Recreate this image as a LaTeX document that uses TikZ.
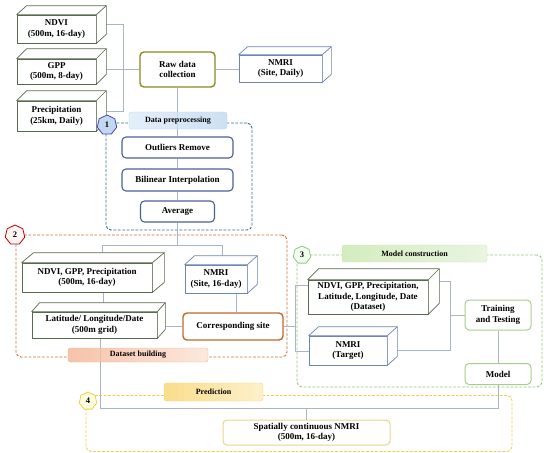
\documentclass[tikz,border=0pt]{standalone}
\usepackage{fontspec}
\setmainfont{Liberation Serif}
\usetikzlibrary{shapes.geometric,calc}
\pgfdeclarelayer{regl}
\pgfdeclarelayer{maskl}
\pgfdeclarelayer{bg}
\pgfsetlayers{regl,maskl,bg,main}
\definecolor{gbox}{HTML}{5A6A50}
\definecolor{bbox}{HTML}{6E84B4}
\definecolor{rawc}{HTML}{8A8A22}
\definecolor{prec}{HTML}{4B6096}
\definecolor{corrc}{HTML}{C0682C}
\definecolor{trnc}{HTML}{A8CC8C}
\definecolor{sptc}{HTML}{EAD38A}
\definecolor{connc}{HTML}{A9B4C8}
\definecolor{dA}{HTML}{2F6E8E}
\definecolor{dB}{HTML}{C8713A}
\definecolor{dC}{HTML}{95C878}
\definecolor{dD}{HTML}{F0CF50}
\definecolor{labAl}{HTML}{DDEBF8}
\definecolor{labAr}{HTML}{C2D8F0}
\definecolor{labBl}{HTML}{F5B494}
\definecolor{labBr}{HTML}{FCE3D6}
\definecolor{labCl}{HTML}{C9E8B0}
\definecolor{labCr}{HTML}{E4F3D8}
\definecolor{labDl}{HTML}{F9D570}
\definecolor{labDr}{HTML}{FDEDBE}
\newcommand\cubefaces[4]{%
  \draw[#4, fill=white, line width=0.7pt, line join=round] (#1.north west) -- ++(#2,-#3) -- ([shift={(#2,-#3)}]#1.north east) -- ([shift={(#2,-#3)}]#1.south east) -- (#1.south east) -- (#1.north east) -- cycle;
  \draw[#4, line width=0.7pt] (#1.north east) -- ++(#2,-#3);}
\newcommand\labmask[1]{\begin{pgfonlayer}{maskl}\fill[white, rounded corners=2.5pt] (#1.south west) rectangle (#1.north east);\end{pgfonlayer}}
\tikzset{
  txt/.style={font=\bfseries\fontsize{9}{10.5}\selectfont, align=center, inner sep=0pt},
  gcube/.style={txt, draw=gbox, fill=white, line width=0.7pt},
  bcube/.style={txt, draw=bbox, fill=white, line width=0.7pt},
  rbox/.style={txt, rounded corners=4pt, fill=white, line width=1.1pt},
  lab/.style={font=\bfseries\fontsize{8}{9}\selectfont, rounded corners=2.5pt, inner sep=0pt, line width=0.4pt, fill opacity=0.8, text opacity=1},
  regionbox/.style={rounded corners=5pt, dash pattern=on 2.8pt off 1.6pt, line width=0.9pt, inner sep=0pt},
  conn/.style={draw=connc, line width=0.6pt},
  hexa/.style={regular polygon, regular polygon sides=7, minimum size=20pt, inner sep=0pt, font=\bfseries\fontsize{8.5}{9}\selectfont, line width=0.8pt}
}
\begin{document}
\begin{tikzpicture}[x=1pt,y=-1pt]
\useasboundingbox (0,0) rectangle (550,453);
% regions
\begin{pgfonlayer}{regl}
\node[regionbox, draw=dA, minimum width=146, minimum height=107] (r1) at (179,176.5) {};
\node[regionbox, draw=dB, minimum width=271, minimum height=122] (r2) at (151.5,296) {};
\node[regionbox, draw=dC, minimum width=245, minimum height=132] (r3) at (419.5,321) {};
\node[regionbox, draw=dD, minimum width=426, minimum height=56] (r4) at (299,423.5) {};
\end{pgfonlayer}
% nodes
\node[gcube, minimum width=79, minimum height=28] (ndvi) at (56.5,29) {NDVI\\(500m, 16-day)};
\cubefaces{ndvi}{10}{9}{gbox}
\node[gcube, minimum width=79, minimum height=25] (gpp) at (56.5,71.5) {GPP\\(500m, 8-day)};
\cubefaces{gpp}{10}{10}{gbox}
\node[gcube, minimum width=79, minimum height=30] (precip) at (56.5,116) {Precipitation\\(25km, Daily)};
\cubefaces{precip}{10}{10}{gbox}
\node[rbox, draw=rawc, line width=1.4pt, minimum width=75, minimum height=35] (raw) at (177.5,69.5) {Raw data\\collection};
\node[bcube, minimum width=83, minimum height=27] (nmrione) at (280.5,68.5) {NMRI\\(Site, Daily)};
\cubefaces{nmrione}{9}{8}{bbox}
\node[rbox, draw=prec, minimum width=111, minimum height=21] (outl) at (177.5,147.5) {Outliers Remove};
\node[rbox, draw=prec, minimum width=111, minimum height=22] (bilin) at (177.5,180) {Bilinear Interpolation};
\node[rbox, draw=prec, minimum width=74, minimum height=21] (avg) at (177.5,211.5) {Average};
\node[gcube, minimum width=130, minimum height=29] (ndgp) at (87,277.5) {NDVI, GPP, Precipitation\\(500m, 16-day)};
\cubefaces{ndgp}{12}{10}{gbox}
\node[bcube, minimum width=62, minimum height=28] (nmritwo) at (216,279) {NMRI\\(Site, 16-day)};
\cubefaces{nmritwo}{10}{9}{bbox}
\node[gcube, minimum width=125, minimum height=26] (latlon) at (94.5,325) {Latitude/ Longitude/Date\\(500m grid)};
\cubefaces{latlon}{8}{9}{gbox}
\node[rbox, draw=corrc, line width=1.4pt, minimum width=100, minimum height=27] (corr) at (233,326.5) {Corresponding site};
\node[gcube, minimum width=120, minimum height=34] (dataset) at (368,297) {NDVI, GPP, Precipitation,\\Latitude, Longitude, Date\\(Dataset)};
\cubefaces{dataset}{11}{11}{gbox}
\node[bcube, minimum width=78, minimum height=29] (target) at (348,350.5) {NMRI\\(Target)};
\cubefaces{target}{10}{9}{bbox}
\node[rbox, draw=trnc, line width=1pt, minimum width=66, minimum height=30] (train) at (498,315) {Training\\and Testing};
\node[rbox, draw=trnc, line width=1pt, minimum width=66, minimum height=21] (model) at (498,374) {Model};
\node[rbox, draw=sptc, line width=1pt, minimum width=167, minimum height=25] (spatial) at (306.5,432.5) {Spatially continuous NMRI\\(500m, 16-day)};
% labels
\node[lab, draw=labAr, left color=labAl, right color=labAr, minimum width=98, minimum height=17] (labA) at (178,120.5) {Data preprocessing};
\node[lab, draw=labBl, left color=labBl, right color=labBr, minimum width=140, minimum height=14] (labB) at (138,355) {Dataset building};
\node[lab, draw=labCl, left color=labCl, right color=labCr, minimum width=145, minimum height=17] (labC) at (414.5,253.5) {Model construction};
\node[lab, draw=labDl, left color=labDl, right color=labDr, minimum width=99, minimum height=18] (labD) at (213.5,392) {Prediction};
\labmask{labA}\labmask{labB}\labmask{labC}\labmask{labD}
% hexagons
\node[hexa, draw=blue!45!gray, fill=labAr] (hA) at (107,125) {1};
\node[hexa, draw=red!75!black, fill=red!4] (hB) at (15,235) {2};
\node[hexa, draw=dC, fill=green!6, minimum size=18pt] (hC) at (302,255) {3};
\node[hexa, draw=dD, fill=yellow!12, minimum size=18pt] (hD) at (88,401) {4};
% connectors
\begin{pgfonlayer}{bg}
\coordinate (ndviS) at ([shift={(5,-5)}]ndvi.east);
\coordinate (precipS) at ([shift={(5,-5)}]precip.east);
\coordinate (busA) at (123,0);
\draw[conn] (ndviS) -- (ndviS -| busA) -- (precipS -| busA) -- (precipS);
\draw[conn] (raw.west) -- (raw.west -| gpp.east);
\draw[conn] (raw.east) -- (raw.east -| nmrione.west);
\draw[conn] (raw) -- (outl);
\draw[conn] (outl) -- (bilin);
\draw[conn] (bilin) -- (avg);
\coordinate (jB) at (177.5,245);
\coordinate (jBl) at (102,245);
\coordinate (jBr) at (222,245);
\draw[conn] (avg) -- (jB);
\draw[conn] (jBl) -- (jBr);
\draw[conn] (jBl) -- (jBl |- ndgp.north);
\draw[conn] (jBr) -- (jBr |- nmritwo.north);
\coordinate (xa) at (103,0);
\draw[conn] (xa |- ndgp.south) -- (xa |- latlon.north);
\coordinate (xb) at (236,0);
\draw[conn] (xb |- nmritwo.south) -- (xb |- corr.north);
\draw[conn] (corr.west) -- (corr.west -| latlon.east);
\coordinate (bCt) at (295,285);
\coordinate (bCb) at (295,351);
\draw[conn] (corr.east) -- (corr.east -| bCt);
\draw[conn] (bCt -| dataset.west) -- (bCt) -- (bCb) -- (bCb -| target.west);
\coordinate (bDt) at (450,281);
\coordinate (bDb) at (450,350.5);
\draw[conn] (bDt -| dataset.east) -- (bDt) -- (bDb) -- (target.east);
\draw[conn] (train.west -| bDt) -- (train.west);
\draw[conn] (train) -- (model);
\coordinate (bE) at (0,408);
\coordinate (xc) at (100,0);
\draw[conn] (xc |- latlon.south) -- (xc |- bE) -- (bE -| model.south) -- (model.south);
\draw[conn] (spatial.north |- bE) -- (spatial.north);
\end{pgfonlayer}
\end{tikzpicture}
\end{document}
